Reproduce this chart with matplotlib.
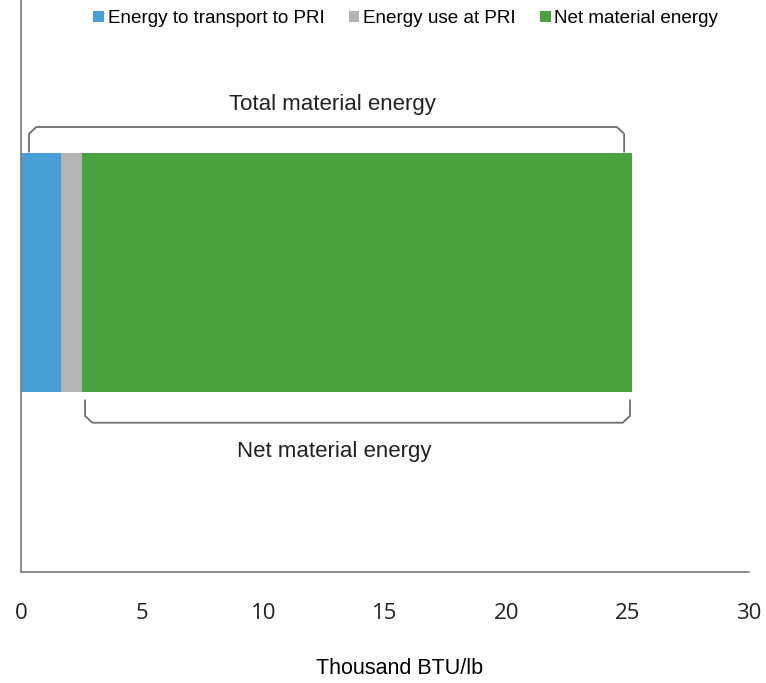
import matplotlib
matplotlib.use("Agg")
import matplotlib.pyplot as plt

# data (thousand BTU/lb)
labels = ['Energy to transport to PRI', 'Energy use at PRI', 'Net material energy']
values = [1.65, 0.87, 22.65]
colors = ['#4a9ed6', '#b4b4b4', '#4ba33f']

plt.rcParams['font.family'] = ['Liberation Sans', 'DejaVu Sans']

fig = plt.figure(figsize=(7.66, 6.83), dpi=100)
ax = fig.add_axes([0.0274, 0.1625, 0.9506, 0.8375])

left = 0
for lab, v, c in zip(labels, values, colors):
    ax.barh(0.5236, v, left=left, height=0.418, color=c, label=lab)
    left += v
total = left

ax.set_xlim(0, 30)
ax.set_ylim(0, 1)
ax.set_xticks([0, 5, 10, 15, 20, 25, 30])
ax.set_yticks([])
ax.tick_params(axis='x', length=0, pad=22, labelsize=16, labelcolor='#222222')
for t in ax.get_xticklabels():
    t.set_family(['Open Sans', 'DejaVu Sans'])
for s in ['top', 'right']:
    ax.spines[s].set_visible(False)
for s in ['left', 'bottom']:
    ax.spines[s].set_color('#7a7a7a')
    ax.spines[s].set_linewidth(1.2)

ax.set_xlabel('Thousand BTU/lb', fontsize=15.5,
              family=['Liberation Sans Narrow', 'Liberation Sans'])
ax.xaxis.set_label_coords(0.52, -0.150)


def bracket(x0, x1, yend, yline, r=0.3, ry=0.012):
    yc = yline - ry if yline > yend else yline + ry
    xs = [x0, x0, x0 + r, x1 - r, x1, x1]
    ys = [yend, yc, yline, yline, yc, yend]
    ax.plot(xs, ys, color='#6e6e6e', lw=1.3, solid_joinstyle='round')


# total bracket above bar
bracket(0.33, total - 0.32, 0.735, 0.778)
ax.text(total / 2 + 0.25, 0.818, 'Total material energy', ha='center', va='center',
        fontsize=16, color='#222222')

# net bracket below bar
net_start = values[0] + values[1]
bracket(net_start + 0.12, total - 0.08, 0.300, 0.261)
ax.text((net_start + total) / 2 - 0.95, 0.21, 'Net material energy', ha='center',
        va='center', fontsize=16, color='#222222')

fig.legend(loc='upper center', bbox_to_anchor=(0.53, 1.01), ncol=3, frameon=False,
           fontsize=13.6, handlelength=0.55, handleheight=0.55, handletextpad=0.2,
           columnspacing=1.3)

fig.savefig('out.png', dpi=100)
